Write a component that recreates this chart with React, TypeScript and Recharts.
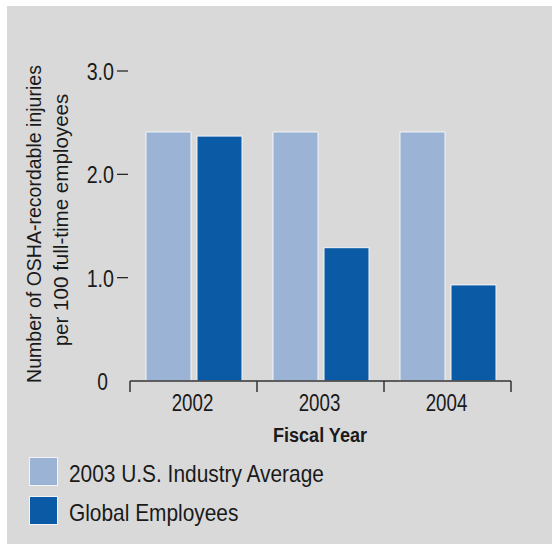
import { Bar, BarChart, XAxis, YAxis } from "recharts";

const FONT = "'Liberation Sans', Arial, sans-serif";
const INK = "#1a1a1a";

const years = ["2002", "2003", "2004"];
const industryAverage = [2.41, 2.41, 2.41];
const globalEmployees = [2.37, 1.29, 0.93];
const yTicks = [0, 1, 2, 3];
const yTickLabels = ["0", "1.0", "2.0", "3.0"];

const SERIES = [
  { key: "industry", name: "2003 U.S. Industry Average", color: "#9bb4d5" },
  { key: "global", name: "Global Employees", color: "#0a5aa5" },
];

const data = years.map((year, i) => ({
  year,
  industry: industryAverage[i],
  global: globalEmployees[i],
}));

// condensed look: squeeze Liberation Sans horizontally
function CText({ x, y, size, k, anchor = "start", weight = "normal", rotate = 0, children }: any) {
  return (
    <text
      transform={`translate(${x}, ${y}) rotate(${rotate}) scale(${k}, 1)`}
      textAnchor={anchor}
      fontSize={size}
      fontWeight={weight}
      fill={INK}
      fontFamily={FONT}
    >
      {children}
    </text>
  );
}

function YTick(props: any) {
  const { x, y, payload, index } = props;
  const label = yTickLabels[index] ?? String(payload.value);
  if (payload.value === 0) {
    return (
      <CText x={x - 22} y={y + 9} size={24} k={0.8} anchor="end">
        {label}
      </CText>
    );
  }
  return (
    <g>
      <CText x={x - 16} y={y + 9} size={24} k={0.82} anchor="end">
        {label}
      </CText>
      <line x1={x - 13} x2={x - 2} y1={y} y2={y} stroke={INK} strokeWidth={1.2} />
    </g>
  );
}

function XTick(props: any) {
  const { x, y, payload, index } = props;
  const half = payload.offset || 63.5;
  const last = index === years.length - 1;
  return (
    <g>
      <line x1={x - half} x2={x - half} y1={y} y2={y + 11} stroke="#333" strokeWidth={1.5} />
      {last && <line x1={x + half} x2={x + half} y1={y} y2={y + 11} stroke="#333" strokeWidth={1.5} />}
      <CText x={x - 1} y={y + 29.5} size={24} k={0.78} anchor="middle">
        {payload.value}
      </CText>
    </g>
  );
}

export default function App() {
  return (
    <div style={{ position: "absolute", left: 0, top: 0, width: 552, height: 544, background: "#fff" }}>
      <div style={{ position: "absolute", left: 7, top: 6, width: 545, height: 538, background: "#d9d9d9" }} />
      <div style={{ position: "absolute", left: 0, top: 0 }}>
        <BarChart
          width={552}
          height={544}
          data={data}
          margin={{ top: 71, right: 41, bottom: 99, left: 0 }}
          barSize={45}
          barGap={6}
        >
          <YAxis
            width={130}
            domain={[0, 3]}
            ticks={yTicks}
            axisLine={false}
            tickLine={false}
            tickSize={0}
            tickMargin={0}
            tick={<YTick />}
            label={({ viewBox }: any) => {
              const cy = viewBox.y + viewBox.height / 2 - 4;
              return (
                <g>
                  <CText x={41} y={cy + 2} size={21} k={0.93} anchor="middle" rotate={-90}>
                    Number of OSHA-recordable injuries
                  </CText>
                  <CText x={68} y={cy - 2} size={21} k={0.98} anchor="middle" rotate={-90}>
                    per 100 full-time employees
                  </CText>
                </g>
              );
            }}
          />
          <XAxis
            dataKey="year"
            height={64}
            axisLine={{ stroke: "#333", strokeWidth: 1.5 }}
            tickLine={false}
            tickSize={0}
            tickMargin={0}
            tick={<XTick />}
            interval={0}
            label={({ viewBox }: any) => (
              <CText x={viewBox.x + viewBox.width / 2 - 0.5} y={viewBox.y + 61} size={21} k={0.86} anchor="middle" weight="bold">
                Fiscal Year
              </CText>
            )}
          />
          {SERIES.map((s) => (
            <Bar
              key={s.key}
              dataKey={s.key}
              name={s.name}
              fill={s.color}
              stroke="#f2f4f8"
              strokeWidth={1}
              isAnimationActive={false}
            />
          ))}
        </BarChart>
      </div>
      <svg width={552} height={544} style={{ position: "absolute", left: 0, top: 0 }}>
        {SERIES.map((s, i) => (
          <g key={s.key}>
            <rect x={29.5} y={457.5 + i * 39} width={28} height={28} fill={s.color} stroke="#f2f4f8" strokeWidth={1} />
            <CText x={69} y={481.5 + i * 39} size={24} k={0.87}>
              {s.name}
            </CText>
          </g>
        ))}
      </svg>
    </div>
  );
}
